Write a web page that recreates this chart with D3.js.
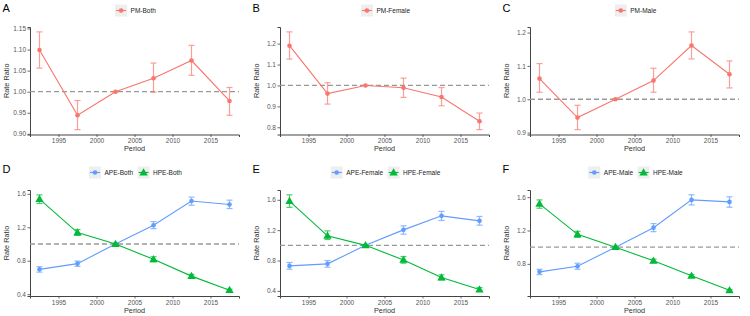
<!DOCTYPE html>
<html>
<head>
<meta charset="utf-8">
<script src="https://cdn.jsdelivr.net/npm/d3@7"></script>
<style>
  body { margin: 0; background: #fff; }
  text { font-family: "Liberation Sans", Arial, sans-serif; }
</style>
</head>
<body>
<div id="chart"></div>
<script>
// period midpoints
var periods = [1992.5, 1997.5, 2002.5, 2007.5, 2012.5, 2017.5];
var xTicks = [1995, 2000, 2005, 2010, 2015];

// rate ratios: [estimate, lower, upper]
var pmBoth    = [[1.099,1.056,1.142],[0.944,0.910,0.979],[1,1,1],[1.032,0.999,1.068],[1.074,1.039,1.110],[0.978,0.944,1.010]];
var pmFemale  = [[1.190,1.126,1.256],[0.961,0.911,1.013],[1,1,1],[0.989,0.943,1.035],[0.945,0.903,0.990],[0.829,0.789,0.868]];
var pmMale    = [[1.062,1.021,1.107],[0.945,0.909,0.982],[1,1,1],[1.056,1.021,1.093],[1.161,1.121,1.202],[1.075,1.034,1.115]];
var apeBoth   = [[0.697,0.664,0.729],[0.765,0.732,0.796],[1,1,1],[1.224,1.184,1.268],[1.514,1.464,1.560],[1.473,1.424,1.524]];
var hpeBoth   = [[1.536,1.484,1.588],[1.137,1.104,1.173],[1,1,1],[0.817,0.788,0.848],[0.616,0.596,0.636],[0.448,0.436,0.460]];
var apeFemale = [[0.729,0.686,0.774],[0.756,0.712,0.800],[1,1,1],[1.204,1.147,1.257],[1.389,1.328,1.447],[1.323,1.266,1.381]];
var hpeFemale = [[1.583,1.500,1.666],[1.125,1.077,1.191],[1,1,1],[0.808,0.765,0.853],[0.576,0.545,0.611],[0.418,0.396,0.444]];
var apeMale   = [[0.704,0.671,0.735],[0.771,0.735,0.807],[1,1,1],[1.234,1.186,1.283],[1.567,1.507,1.628],[1.543,1.479,1.604]];
var hpeMale   = [[1.519,1.467,1.567],[1.154,1.117,1.190],[1,1,1],[0.836,0.816,0.856],[0.656,0.641,0.671],[0.482,0.472,0.492]];

// y tick labels per panel
var yTicksA = [0.90, 0.95, 1.00, 1.05, 1.10, 1.15];
var yTicksB = [0.8, 0.9, 1.0, 1.1, 1.2];
var yTicksC = [0.9, 1.0, 1.1, 1.2];
var yTicksD = [0.4, 0.8, 1.2, 1.6];
var yTicksE = [0.4, 0.8, 1.2, 1.6];
var yTicksF = [0.8, 1.2, 1.6];

var red = "#F8766D", blue = "#619CFF", green = "#00BA38";

var panels = [
  { label: "A", col: 0, row: 0, ticks: yTicksA, fmt: ".2f", series: [{ name: "PM-Both", data: pmBoth, color: red, shape: "circle" }] },
  { label: "B", col: 1, row: 0, ticks: yTicksB, fmt: ".1f", series: [{ name: "PM-Female", data: pmFemale, color: red, shape: "circle" }] },
  { label: "C", col: 2, row: 0, ticks: yTicksC, fmt: ".1f", series: [{ name: "PM-Male", data: pmMale, color: red, shape: "circle" }] },
  { label: "D", col: 0, row: 1, ticks: yTicksD, fmt: ".1f", series: [
      { name: "APE-Both", data: apeBoth, color: blue, shape: "circle" },
      { name: "HPE-Both", data: hpeBoth, color: green, shape: "triangle" }] },
  { label: "E", col: 1, row: 1, ticks: yTicksE, fmt: ".1f", series: [
      { name: "APE-Female", data: apeFemale, color: blue, shape: "circle" },
      { name: "HPE-Female", data: hpeFemale, color: green, shape: "triangle" }] },
  { label: "F", col: 2, row: 1, ticks: yTicksF, fmt: ".1f", series: [
      { name: "APE-Male", data: apeMale, color: blue, shape: "circle" },
      { name: "HPE-Male", data: hpeMale, color: green, shape: "triangle" }] }
];

var W = 750, H = 316;
var svg = d3.select("#chart").append("svg")
    .attr("width", W)
    .attr("height", H);

var rows = [{ top: 27, bottom: 134.5, legendY: 10.5, letterY: 11.5, titleDy: 16.3 },
            { top: 190, bottom: 296, legendY: 172.5, letterY: 172.5, titleDy: 16.8 }];

function marker(g, shape, color, x, y) {
  if (shape === "triangle") {
    g.append("path")
      .attr("d", d3.symbol().type(d3.symbolTriangle).size(30)())
      .attr("transform", "translate(" + x + "," + (y + 0.5) + ")")
      .attr("fill", color);
  } else {
    g.append("circle").attr("cx", x).attr("cy", y).attr("r", 2.3).attr("fill", color);
  }
}

panels.forEach(function (p) {
  var ox = p.col * 250;
  var r = rows[p.row];
  var left = ox + 30, right = ox + 239;

  // ggplot-like 5% expansion of the data range
  var x = d3.scaleLinear()
      .domain([periods[0] - 1.25, periods[periods.length - 1] + 1.25])
      .range([left, right]);
  var lo = d3.min(p.series, function (s) { return d3.min(s.data, function (d) { return d[1]; }); });
  var hi = d3.max(p.series, function (s) { return d3.max(s.data, function (d) { return d[2]; }); });
  var pad = (hi - lo) * 0.05;
  var y = d3.scaleLinear().domain([lo - pad, hi + pad]).range([r.bottom, r.top]);

  var g = svg.append("g");

  // panel letter
  g.append("text")
    .attr("x", ox + 2.5).attr("y", r.letterY)
    .attr("font-size", 11).attr("fill", "#000")
    .text(p.label);

  // axes
  var xa = g.append("g")
    .attr("transform", "translate(0," + r.bottom + ")")
    .call(d3.axisBottom(x).tickValues(xTicks).tickFormat(d3.format("d")).tickSizeOuter(0).tickSize(2.5).tickPadding(1.5));
  var ya = g.append("g")
    .attr("transform", "translate(" + left + ",0)")
    .call(d3.axisLeft(y).tickValues(p.ticks).tickFormat(d3.format(p.fmt)).tickSizeOuter(0).tickSize(2.5).tickPadding(1.5));
  [xa, ya].forEach(function (a) {
    a.select(".domain").attr("stroke", "#444").attr("stroke-width", 1);
    a.selectAll(".tick line").attr("stroke", "#444").attr("stroke-width", 0.8);
    a.selectAll(".tick text").attr("fill", "#555").attr("font-size", 6.5)
      .style("font-family", "'Liberation Sans', Arial, sans-serif");
  });

  // axis titles
  g.append("text")
    .attr("x", (left + right) / 2).attr("y", r.bottom + r.titleDy)
    .attr("text-anchor", "middle").attr("font-size", 7.3).attr("fill", "#333")
    .text("Period");
  g.append("text")
    .attr("transform", "translate(" + (ox + 8.5) + "," + ((r.top + r.bottom) / 2) + ") rotate(-90)")
    .attr("text-anchor", "middle").attr("font-size", 7.3).attr("fill", "#333")
    .text("Rate Ratio");

  // reference line at 1
  g.append("line")
    .attr("x1", left).attr("x2", right)
    .attr("y1", y(1)).attr("y2", y(1))
    .attr("stroke", "#999").attr("stroke-width", 1.3)
    .attr("stroke-dasharray", "5,3");

  p.series.forEach(function (s) {
    var sg = g.append("g");
    // error bars
    s.data.forEach(function (d, i) {
      var cx = x(periods[i]);
      var eb = sg.append("g").attr("stroke", s.color).attr("stroke-width", 1.2).attr("opacity", 0.7);
      eb.append("line").attr("x1", cx).attr("x2", cx).attr("y1", y(d[1])).attr("y2", y(d[2]));
      eb.append("line").attr("x1", cx - 3).attr("x2", cx + 3).attr("y1", y(d[1])).attr("y2", y(d[1]));
      eb.append("line").attr("x1", cx - 3).attr("x2", cx + 3).attr("y1", y(d[2])).attr("y2", y(d[2]));
    });
    // line
    sg.append("path")
      .datum(s.data)
      .attr("fill", "none")
      .attr("stroke", s.color)
      .attr("stroke-width", 1.1)
      .attr("d", d3.line()
        .x(function (d, i) { return x(periods[i]); })
        .y(function (d) { return y(d[0]); }));
    // points
    s.data.forEach(function (d, i) {
      marker(sg, s.shape, s.color, x(periods[i]), y(d[0]));
    });
  });

  // legend on top, centred over the plot
  var lg = g.append("g");
  var cursor = 0;
  p.series.forEach(function (s) {
    var item = lg.append("g").attr("transform", "translate(" + cursor + ",0)");
    item.append("rect")
      .attr("x", 0).attr("y", r.legendY - 6).attr("width", 12).attr("height", 12)
      .attr("fill", "#EEEEEE");
    item.append("line")
      .attr("x1", 1).attr("x2", 11).attr("y1", r.legendY).attr("y2", r.legendY)
      .attr("stroke", s.color).attr("stroke-width", 1.1);
    marker(item, s.shape, s.color, 6, r.legendY);
    var t = item.append("text")
      .attr("x", 15.5).attr("y", r.legendY).attr("dy", "0.35em")
      .attr("font-size", 6.5).attr("fill", "#222")
      .text(s.name);
    cursor += 15.5 + t.node().getComputedTextLength() + 4.5;
  });
  var total = cursor - 4.5;
  lg.attr("transform", "translate(" + ((left + right) / 2 - total / 2 + 1) + ",0)");
});
</script>
</body>
</html>
